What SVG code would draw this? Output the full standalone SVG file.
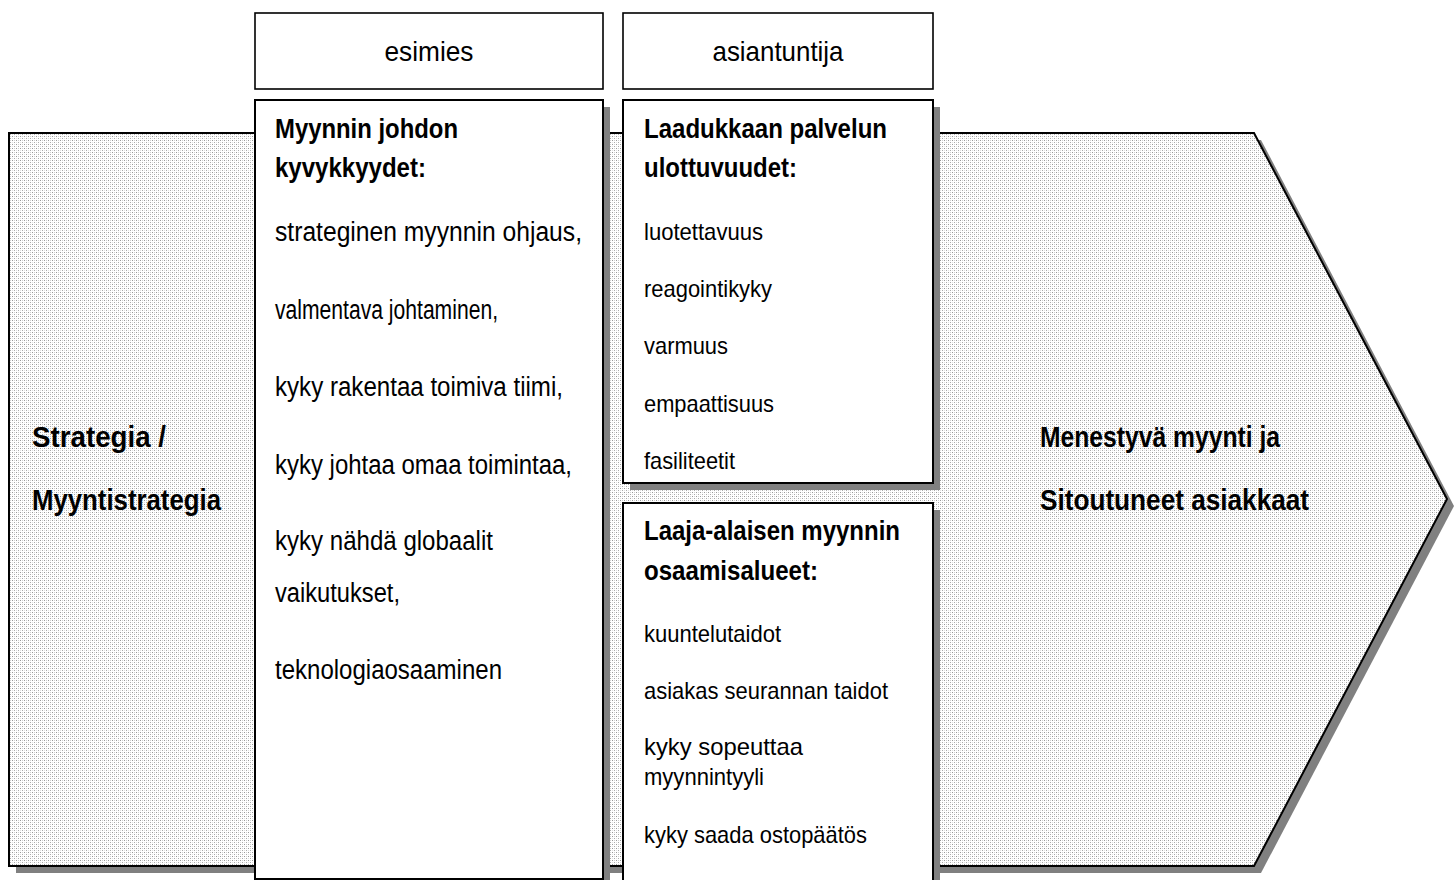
<svg xmlns="http://www.w3.org/2000/svg" width="1456" height="880" viewBox="0 0 1456 880">
<style>
text{font-family:"Liberation Sans Narrow","Liberation Sans",Arial,sans-serif;fill:#000}
.hd{font-size:28px}
.ti{font-size:28px;font-weight:bold}
.li{font-size:27px}
.ri{font-size:24px}
.ar{font-size:29px;font-weight:bold}
.box{fill:#fff;stroke:#000;stroke-width:2}
.hbox{fill:#fff;stroke:#000;stroke-width:1.6}
.sh{fill:#808080}
</style>
<defs>
<pattern id="dots" width="4" height="4" patternUnits="userSpaceOnUse">
<rect width="4" height="4" fill="#fff"/>
<rect x="0" y="0" width="1" height="1" fill="#999"/>
<rect x="2" y="2" width="1" height="1" fill="#aaa"/>
<rect x="2" y="0" width="1" height="1" fill="#d0d0d0"/>
<rect x="0" y="2" width="1" height="1" fill="#e0e0e0"/>
</pattern>
</defs>
<rect width="1456" height="880" fill="#fff"/>
<g id="arrow">
<polygon class="sh" points="16,140 1261,140 1454,506 1261,873 16,873"/>
<polygon points="9,133 1254,133 1447,499 1254,866 9,866" fill="url(#dots)" stroke="#000" stroke-width="2"/>
</g>
<g id="strategia">
<text class="ar" x="32" y="447" textLength="134" lengthAdjust="spacingAndGlyphs">Strategia /</text>
<text class="ar" x="32" y="510" textLength="189" lengthAdjust="spacingAndGlyphs">Myyntistrategia</text>
</g>
<g id="tulos">
<text class="ar" x="1040" y="447" textLength="240" lengthAdjust="spacingAndGlyphs">Menestyvä myynti ja</text>
<text class="ar" x="1040" y="510" textLength="269" lengthAdjust="spacingAndGlyphs">Sitoutuneet asiakkaat</text>
</g>
<g id="esimies">
<rect class="hbox" x="255" y="13" width="348" height="76"/>
<text class="hd" x="429" y="61" text-anchor="middle" textLength="89" lengthAdjust="spacingAndGlyphs">esimies</text>
</g>
<g id="asiantuntija">
<rect class="hbox" x="623" y="13" width="310" height="76"/>
<text class="hd" x="778" y="61" text-anchor="middle" textLength="131" lengthAdjust="spacingAndGlyphs">asiantuntija</text>
</g>
<g id="johdon-kyvykkyydet">
<rect class="sh" x="262" y="107" width="348" height="780"/>
<rect class="box" x="255" y="100" width="348" height="779"/>
<text class="ti" x="275" y="138" textLength="183" lengthAdjust="spacingAndGlyphs">Myynnin johdon</text>
<text class="ti" x="275" y="177" textLength="151" lengthAdjust="spacingAndGlyphs">kyvykkyydet:</text>
<text class="li" x="275" y="241" textLength="307" lengthAdjust="spacingAndGlyphs">strateginen myynnin ohjaus,</text>
<text class="li" x="275" y="319" textLength="223" lengthAdjust="spacingAndGlyphs">valmentava johtaminen,</text>
<text class="li" x="275" y="396" textLength="288" lengthAdjust="spacingAndGlyphs">kyky rakentaa toimiva tiimi,</text>
<text class="li" x="275" y="474" textLength="297" lengthAdjust="spacingAndGlyphs">kyky johtaa omaa toimintaa,</text>
<text class="li" x="275" y="550" textLength="218" lengthAdjust="spacingAndGlyphs">kyky nähdä globaalit</text>
<text class="li" x="275" y="602" textLength="125" lengthAdjust="spacingAndGlyphs">vaikutukset,</text>
<text class="li" x="275" y="679" textLength="227" lengthAdjust="spacingAndGlyphs">teknologiaosaaminen</text>
</g>
<g id="palvelun-ulottuvuudet">
<rect class="sh" x="630" y="107" width="310" height="383"/>
<rect class="box" x="623" y="100" width="310" height="383"/>
<text class="ti" x="644" y="138" textLength="243" lengthAdjust="spacingAndGlyphs">Laadukkaan palvelun</text>
<text class="ti" x="644" y="177" textLength="153" lengthAdjust="spacingAndGlyphs">ulottuvuudet:</text>
<text class="ri" x="644" y="240" textLength="119" lengthAdjust="spacingAndGlyphs">luotettavuus</text>
<text class="ri" x="644" y="297" textLength="128" lengthAdjust="spacingAndGlyphs">reagointikyky</text>
<text class="ri" x="644" y="354" textLength="84" lengthAdjust="spacingAndGlyphs">varmuus</text>
<text class="ri" x="644" y="412" textLength="130" lengthAdjust="spacingAndGlyphs">empaattisuus</text>
<text class="ri" x="644" y="469" textLength="91" lengthAdjust="spacingAndGlyphs">fasiliteetit</text>
</g>
<g id="myynnin-osaamisalueet">
<rect class="sh" x="630" y="510" width="310" height="380"/>
<rect class="box" x="623" y="503" width="310" height="380"/>
<text class="ti" x="644" y="540" textLength="256" lengthAdjust="spacingAndGlyphs">Laaja-alaisen myynnin</text>
<text class="ti" x="644" y="580" textLength="174" lengthAdjust="spacingAndGlyphs">osaamisalueet:</text>
<text class="ri" x="644" y="642" textLength="137" lengthAdjust="spacingAndGlyphs">kuuntelutaidot</text>
<text class="ri" x="644" y="699" textLength="244" lengthAdjust="spacingAndGlyphs">asiakas seurannan taidot</text>
<text class="ri" x="644" y="755" textLength="159" lengthAdjust="spacingAndGlyphs">kyky sopeuttaa</text>
<text class="ri" x="644" y="785" textLength="120" lengthAdjust="spacingAndGlyphs">myynnintyyli</text>
<text class="ri" x="644" y="843" textLength="223" lengthAdjust="spacingAndGlyphs">kyky saada ostopäätös</text>
</g>
</svg>
